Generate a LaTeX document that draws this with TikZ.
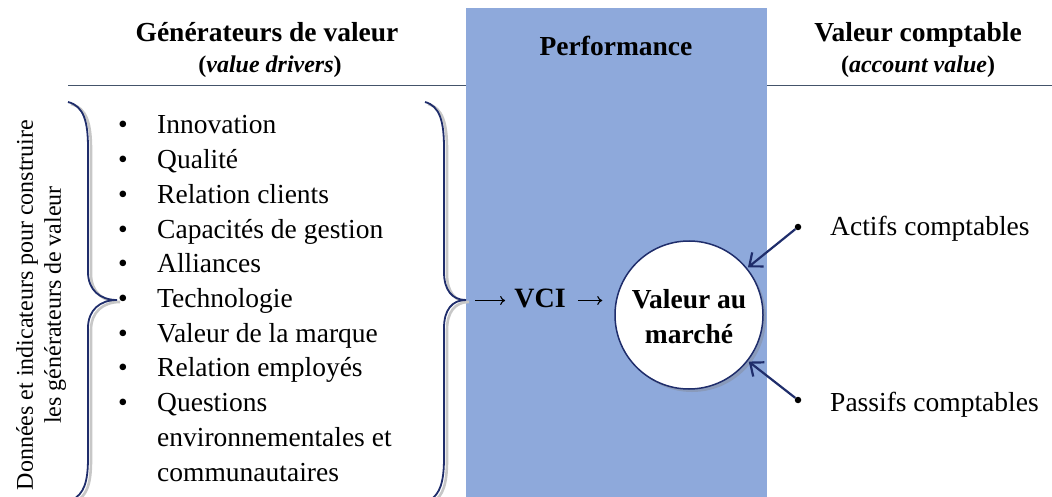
\documentclass[tikz,border=0pt]{standalone}
\usepackage{fontspec}
\setmainfont{Liberation Serif}
\usetikzlibrary{arrows.meta,shadows}
\definecolor{navy}{HTML}{1F2D6B}
\definecolor{perfblue}{HTML}{8EA9DB}
\definecolor{ruleclr}{HTML}{44546A}
\begin{document}
\begin{tikzpicture}[x=1pt,y=-1pt,
  txt/.style={inner sep=0pt,anchor=base},
  big/.style={font=\fontsize{27.5}{34.7}\selectfont},
  bigb/.style={font=\fontsize{27.5}{30}\selectfont\bfseries},
  subb/.style={font=\fontsize{24}{28}\selectfont\bfseries},
  item/.style={txt,big,anchor=base west},
  bul/.style={txt,big},
  bracestyle/.style={draw=navy,line width=1.8pt},
  braceshadow/.style={draw=black!22,line width=2.6pt},
  navyarrow/.style={draw=navy,line width=2.2pt,-{Straight Barb[length=11pt,width=18pt,line width=2.2pt]}},
  glypharrow/.style={draw=black,line width=1.1pt,-{To[length=5pt,width=9pt,line width=1.1pt]}},
  dotstyle/.style={circle,fill=black,inner sep=0pt,minimum size=6.5pt}
]
\useasboundingbox (0,0) rectangle (1052,497);
% header rule and performance band
\draw[ruleclr,line width=1pt] (68,86) -- (1052,86);
\fill[perfblue] (466,8) rectangle (767,497);

% headers
\node[txt,bigb] (h1) at (267,42) {Générateurs de valeur};
\node[txt,subb] (h1s) at (270,73) {(\textit{value drivers})};
\node[txt,bigb] (h2) at (616,56) {Performance};
\node[txt,bigb] (h3) at (918,42) {Valeur comptable};
\node[txt,subb] (h3s) at (918,73) {(\textit{account value})};

% vertical label
\node[rotate=90,align=center,inner sep=0pt,font=\fontsize{24}{28}\selectfont] (vlab) at (41,305)
  {Données et indicateurs pour construire\\les générateurs de valeur};

% left brace
\draw[braceshadow,shift={(3,2)}] (68,102) .. controls (84,106) and (88,122) .. (88,148) -- (88,272)
  .. controls (88,290) and (100,300) .. (117,300)
  .. controls (100,300) and (88,310) .. (88,328) -- (88,458) .. controls (88,482) and (84,494) .. (72,500);
\draw[bracestyle] (68,102) .. controls (84,106) and (88,122) .. (88,148) -- (88,272)
  .. controls (88,290) and (100,300) .. (117,300)
  .. controls (100,300) and (88,310) .. (88,328) -- (88,458) .. controls (88,482) and (84,494) .. (72,500);

% right brace
\draw[braceshadow,shift={(3,2)}] (425,102) .. controls (440,106) and (444,122) .. (444,148) -- (444,272)
  .. controls (444,290) and (452,300) .. (466,300)
  .. controls (452,300) and (444,310) .. (444,328) -- (444,458) .. controls (444,482) and (440,494) .. (430,500);
\draw[bracestyle] (425,102) .. controls (440,106) and (444,122) .. (444,148) -- (444,272)
  .. controls (444,290) and (452,300) .. (466,300)
  .. controls (452,300) and (444,310) .. (444,328) -- (444,458) .. controls (444,482) and (440,494) .. (430,500);
\coordinate (rbtip) at (475,300.5);

% bullet list
\foreach \t [count=\i from 0] in {Innovation,Qualité,Relation clients,Capacités de gestion,Alliances,Technologie,Valeur de la marque,Relation employés,Questions}{
  \node[bul] (b\i) at (123,134+34.7*\i) {\textbullet};
  \node[item] (it\i) at (157,134+34.7*\i) {\t};
}
\node[item] (it9) at (157,134+34.7*9) {environnementales et};
\node[item] (it10) at (157,134+34.7*10) {communautaires};

% VCI and circle
\node[inner ysep=0pt,inner xsep=9pt,text height=20pt,text depth=6pt,
  font=\fontsize{28}{30}\selectfont\bfseries] (vci) at (540,300.5) {VCI};
\node[circle,draw=navy,line width=1.5pt,fill=white,minimum size=148pt,inner sep=0pt,
  drop shadow={shadow xshift=3pt,shadow yshift=-3pt,opacity=0.35}] (mv) at (689,315) {};
\node[txt,bigb] (mv1) at (689,308) {Valeur au};
\node[txt,bigb] (mv2) at (689,343) {marché};
\draw[glypharrow] (rbtip) -- (vci.west);
\draw[glypharrow,shorten <=3pt,shorten >=12pt] (vci.east) -- (mv.west |- vci.east);

% account items
\node[dotstyle] (d1) at (798,227) {};
\node[dotstyle] (d2) at (798,400) {};
\node[item] (act) at (830,236) {Actifs comptables};
\node[item] (pas) at (830,411) {Passifs comptables};
\draw[navyarrow,shorten >=1pt] (d1) -- (mv);
\draw[navyarrow,shorten >=1pt] (d2) -- (mv);
\end{tikzpicture}
\end{document}
